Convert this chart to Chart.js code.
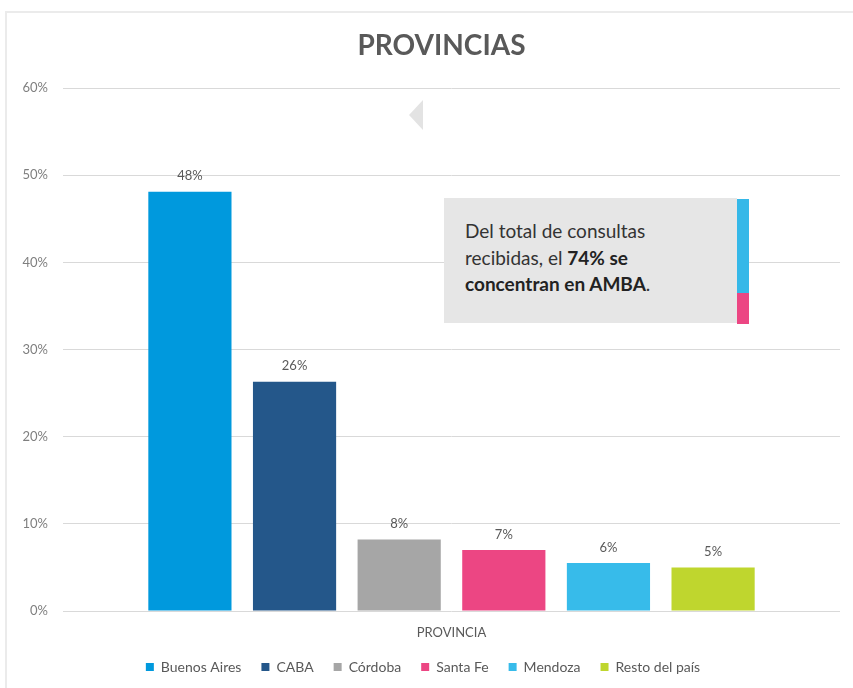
<!DOCTYPE html>
<html>
<head>
<meta charset="utf-8">
<script src="https://cdn.jsdelivr.net/npm/chart.js@4/dist/chart.umd.min.js"></script>
<style>
  html, body { margin: 0; padding: 0; background: #fff; }
  #wrap { position: relative; width: 853px; height: 688px; overflow: hidden; }
  #frame { position: absolute; left: 5px; top: 11px; width: 900px; height: 700px;
           border-left: 2px solid #ebebeb; border-top: 2px solid #ebebeb; }
  #arrow { position: absolute; left: 409px; top: 100px; width: 0; height: 0;
           border-top: 15px solid transparent; border-bottom: 15px solid transparent;
           border-right: 14px solid #e3e3e3; }
  #note { position: absolute; left: 444px; top: 198px; width: 293px; height: 125px;
          background: #e6e6e6; box-sizing: border-box; padding: 20px 0 0 21px;
          font-family: Lato, "Open Sans", sans-serif; font-size: 19px; line-height: 26.5px; color: #333; }
  #note b { color: #222; }
  #noteBarTop { position: absolute; left: 737px; top: 199px; width: 12px; height: 94px; background: #35b8e8; }
  #noteBarBot { position: absolute; left: 737px; top: 293px; width: 12px; height: 31px; background: #ec4683; }
</style>
</head>
<body>
<div id="wrap">
  <div id="frame"></div>
  <canvas id="chart" width="853" height="688"></canvas>
  <div id="arrow"></div>
  <div id="note">Del total de consultas<br>recibidas, el <b>74% se<br>concentran en AMBA</b>.</div>
  <div id="noteBarTop"></div>
  <div id="noteBarBot"></div>
</div>
<script>
// Data
const chartTitle = 'PROVINCIAS';
const categories = ['PROVINCIA'];
const provinces = ['Buenos Aires', 'CABA', 'Córdoba', 'Santa Fe', 'Mendoza', 'Resto del país'];
const shares = [48.1, 26.3, 8.2, 7.0, 5.5, 5.0];
const shareLabels = ['48%', '26%', '8%', '7%', '6%', '5%'];
const colors = ['#0099dd', '#24578a', '#a6a6a6', '#ec4683', '#37bbea', '#bfd62e'];
const yTicks = [0, 10, 20, 30, 40, 50, 60];

const datasets = provinces.map((p, i) => ({
    label: p,
    data: [shares[i]],
    backgroundColor: colors[i],
    categoryPercentage: 0.808,
    barPercentage: 0.795
}));

// labels above the bars + title centred over the plot area
const barLabels = {
    id: 'barLabels',
    afterDatasetsDraw(chart) {
        const ctx = chart.ctx;
        const area = chart.chartArea;
        ctx.save();
        ctx.font = '13px Lato, "Open Sans", sans-serif';
        ctx.fillStyle = '#595959';
        ctx.textAlign = 'center';
        ctx.textBaseline = 'bottom';
        chart.data.datasets.forEach((ds, i) => {
            const bar = chart.getDatasetMeta(i).data[0];
            ctx.fillText(shareLabels[i], bar.x, bar.y - 9);
        });
        ctx.font = 'bold 28px Lato, "Open Sans", sans-serif';
        ctx.textBaseline = 'middle';
        ctx.fillText(chartTitle, (area.left + area.right) / 2 - 10, 46);
        ctx.restore();
    }
};

new Chart(document.getElementById('chart'), {
    type: 'bar',
    data: { labels: categories, datasets: datasets },
    options: {
        responsive: false,
        animation: false,
        layout: { padding: { left: 6, right: 13, bottom: 4, top: 88 } },
        plugins: {
            legend: {
                position: 'bottom',
                labels: {
                    boxWidth: 8,
                    boxHeight: 8,
                    padding: 20,
                    color: '#595959',
                    font: { family: 'Lato, "Open Sans", sans-serif', size: 14 }
                }
            },
            tooltip: { enabled: false }
        },
        scales: {
            x: {
                grid: { display: false, drawTicks: false },
                border: { display: false },
                ticks: { color: '#595959', padding: 14, font: { family: 'Lato, "Open Sans", sans-serif', size: 13 } },
                afterFit(scale) { scale.height = 29; }
            },
            y: {
                min: 0,
                max: 60,
                afterBuildTicks(scale) { scale.ticks = yTicks.map(v => ({ value: v })); },
                grid: { color: '#d9d9d9', drawTicks: false },
                border: { display: false },
                ticks: {
                    color: '#7f7f7f',
                    padding: 15,
                    font: { family: 'Lato, "Open Sans", sans-serif', size: 13 },
                    callback: v => v + '%'
                },
                afterFit(scale) { scale.width = 57; }
            }
        }
    },
    plugins: [barLabels]
});
</script>
</body>
</html>
